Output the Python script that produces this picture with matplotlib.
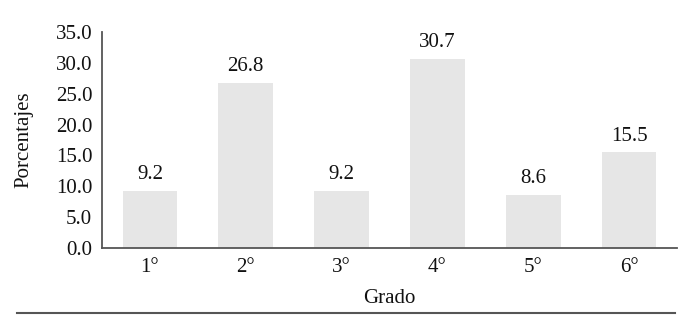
import matplotlib.pyplot as plt
from matplotlib.lines import Line2D

# Data
grados = ['1°', '2°', '3°', '4°', '5°', '6°']
porcentajes = [9.2, 26.8, 9.2, 30.7, 8.6, 15.5]
yticks = [0, 5, 10, 15, 20, 25, 30, 35]

plt.rcParams['font.family'] = ['Liberation Serif', 'DejaVu Serif']

fig = plt.figure(figsize=(6.81, 3.21), dpi=100)
ax = fig.add_axes([102 / 681, 1 - 248 / 321, 575 / 681, 216 / 321])

x = range(len(grados))
ax.bar(x, porcentajes, width=0.57, color='#e6e6e6')
for xi, v in zip(x, porcentajes):
    ax.text(xi, v + 1.1, f'{v:.1f}', ha='center', va='bottom', fontsize=15, color='#111111')

ax.set_xlim(-0.5, len(grados) - 0.5)
ax.set_ylim(0, 35)
ax.set_xticks(list(x))
ax.set_xticklabels(grados)
ax.set_yticks(yticks)
ax.set_yticklabels([f'{t:.1f}' for t in yticks])
ax.tick_params(axis='both', length=0, labelsize=15, colors='#111111')
ax.tick_params(axis='x', pad=7)
ax.tick_params(axis='y', pad=7)

for side in ['top', 'right']:
    ax.spines[side].set_visible(False)
for side in ['left', 'bottom']:
    ax.spines[side].set_color('#555555')
    ax.spines[side].set_linewidth(1.3)

ax.set_xlabel('Grado', fontsize=15, color='#111111', labelpad=9)
ax.set_ylabel('Porcentajes', fontsize=15, color='#111111', labelpad=16)

# rule under the figure
fig.add_artist(Line2D([17 / 681, 675 / 681], [1 - 313 / 321, 1 - 313 / 321],
                      color='#555555', linewidth=1.5))

fig.savefig('out.png', dpi=100)
